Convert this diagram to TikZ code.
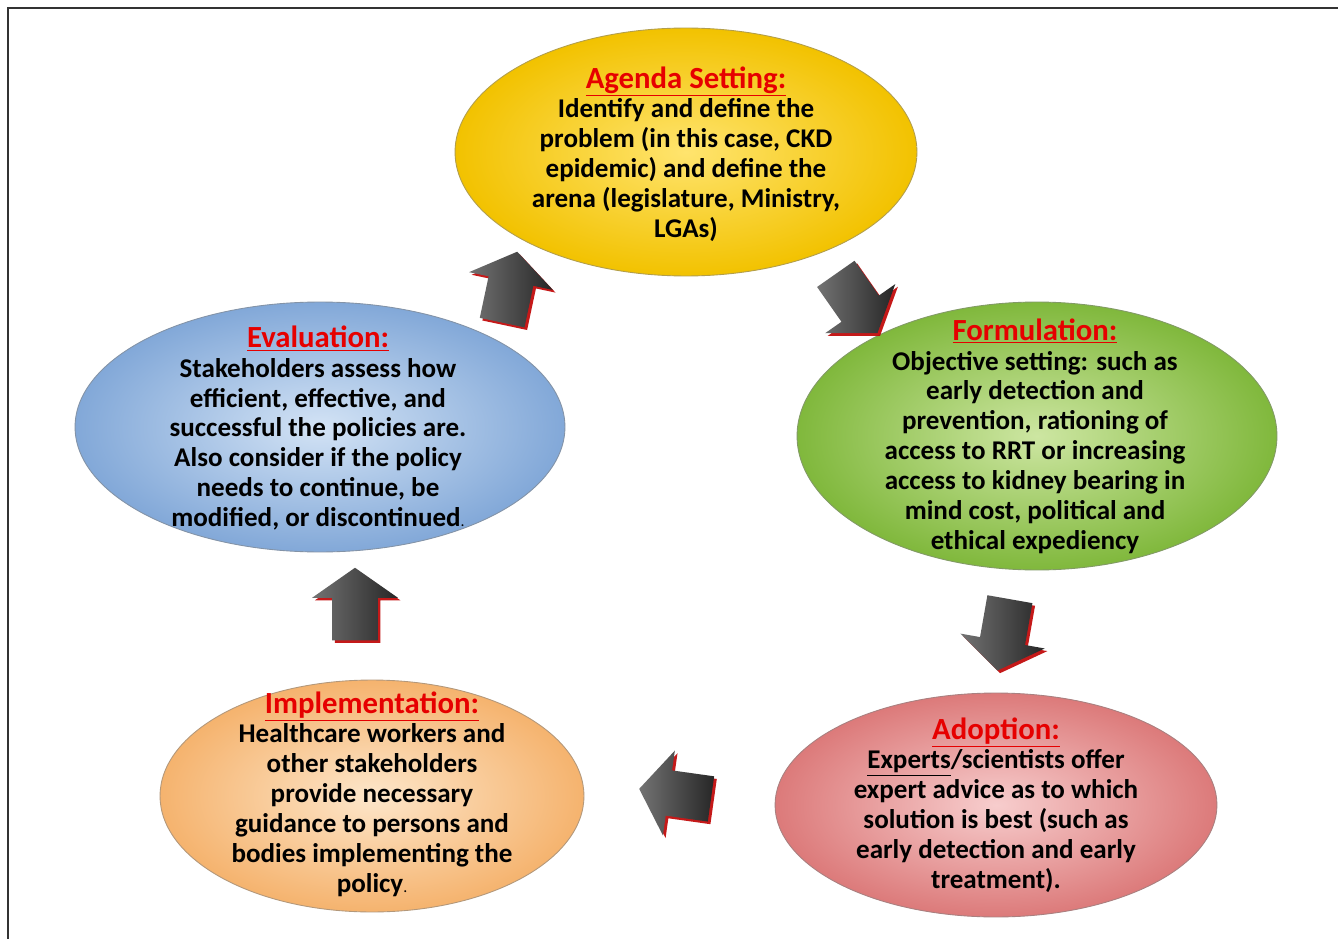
\documentclass[tikz,border=0pt]{standalone}
\usepackage{fontspec}
\setmainfont{Carlito}
\usetikzlibrary{shapes.geometric,shapes.arrows,shadows}

\definecolor{titlered}{HTML}{E60000}
\definecolor{yellowin}{HTML}{FFE46E}
\definecolor{yellowout}{HTML}{F2C200}
\definecolor{greenin}{HTML}{CDE6A2}
\definecolor{greenout}{HTML}{80B83C}
\definecolor{redin}{HTML}{F7CDCD}
\definecolor{redout}{HTML}{DC7A7A}
\definecolor{orangein}{HTML}{FDE6CA}
\definecolor{orangeout}{HTML}{F5B36E}
\definecolor{bluein}{HTML}{D3E3F5}
\definecolor{blueout}{HTML}{82A8D8}
\tikzset{
  stageback/.style={ellipse, draw=#1out!60!black!70, line width=0.5pt, inner sep=0pt,
    inner color=#1in, outer color=#1out},
  stagetext/.style={inner sep=0pt, align=center,
    font=\fontsize{15.4}{17}\selectfont\bfseries},
  cyclearrow/.style={single arrow, draw=none, inner xsep=0.3cm, inner ysep=0.45cm,
    minimum height=1.45cm, minimum width=1.7cm, single arrow head extend=0.4cm,
    single arrow tip angle=110, left color=black!55, right color=black!85,
    drop shadow={fill=red!75!black, opacity=0.9, shadow xshift=1.5pt, shadow yshift=-1.5pt}},
}
\newcommand{\stagetitle}[1]{{\fontsize{17.5}{19}\selectfont\color{titlered}\underline{#1}}}

\begin{document}
\begin{tikzpicture}[x=0.02cm,y=-0.02cm]
\useasboundingbox (0,0) rectangle (1338,939);
\fill[white] (0,0) rectangle (1338,939);
% frame
\draw[line width=1.6pt, black!80] (8,939) -- (8,8) -- (1338,8);

% the five stages
\node[stageback=yellow, minimum width=9.24cm, minimum height=4.96cm] (agendabg) at (686,152) {};
\node[stagetext] (agenda) at (686,154)
  {\stagetitle{Agenda Setting:}\\ Identify and define the\\ problem (in this case, CKD\\
   epidemic) and define the\\ arena (legislature, Ministry,\\ LGAs)};
\node[stageback=green, minimum width=9.6cm, minimum height=5.36cm] (formulationbg) at (1037,436) {};
\node[stagetext] (formulation) at (1035,436)
  {\stagetitle{Formulation:}\\ Objective setting: such as\\ early detection and\\
   prevention, rationing of\\ access to RRT or increasing\\ access to kidney bearing in\\
   mind cost, political and\\ ethical expediency};
\node[stageback=red, minimum width=8.84cm, minimum height=4.48cm] (adoptionbg) at (996,805) {};
\node[stagetext] (adoption) at (996,805)
  {\stagetitle{Adoption:}\\ \underline{Experts}/scientists offer\\ expert advice as to which\\
   solution is best (such as\\ early detection and early\\ treatment).};
\node[stageback=orange, minimum width=8.48cm, minimum height=4.64cm] (implementationbg) at (372,796) {};
\node[stagetext] (implementation) at (372,794)
  {\stagetitle{Implementation:}\\ Healthcare workers and\\ other stakeholders\\
   provide necessary\\ guidance to persons and\\ bodies implementing the\\
   policy{\mdseries\small .}};
\node[stageback=blue, minimum width=9.8cm, minimum height=5.0cm] (evaluationbg) at (320,427) {};
\node[stagetext] (evaluation) at (318,428)
  {\stagetitle{Evaluation:}\\ Stakeholders assess how\\ efficient, effective, and\\
   successful the policies are.\\ Also consider if the policy\\ needs to continue, be\\
   modified, or discontinued{\mdseries\small .}};

% arrows between the stages
\node[cyclearrow, rotate=78] (a1) at (508,295) {};
\node[cyclearrow, rotate=-55] (a2) at (852,297) {};
\node[cyclearrow, rotate=-100] (a3) at (1005,627) {};
\node[cyclearrow, rotate=172] (a4) at (683,795) {};
\node[cyclearrow, rotate=90] (a5) at (355,612) {};
\end{tikzpicture}
\end{document}
